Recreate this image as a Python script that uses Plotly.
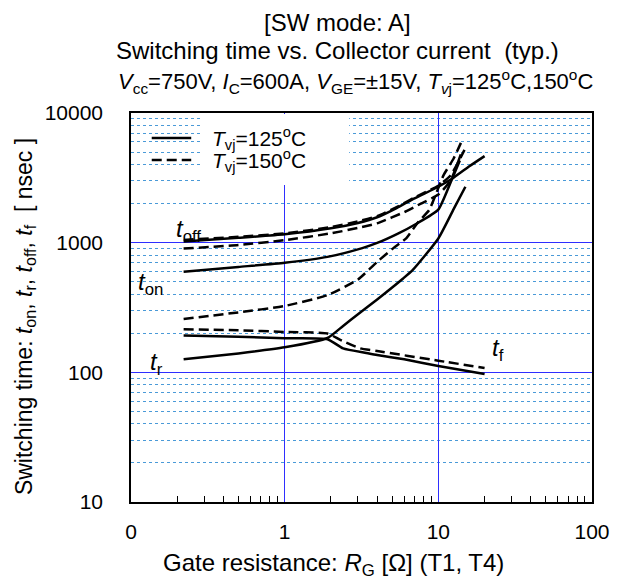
import plotly.graph_objects as go

# ---------------- data ----------------
toff125_x = [0.22, 0.5, 1, 2, 3, 4, 5.35, 7, 10, 12.7, 16, 20]
toff125_y = [1020, 1090, 1160, 1290, 1420, 1570, 1850, 2200, 2700, 3200, 3900, 4650]

toff150_x = [0.22, 0.5, 1, 2, 3, 4, 5.35, 7, 10, 12, 13.5, 14.8]
toff150_y = [1050, 1110, 1180, 1320, 1460, 1600, 1880, 2230, 2750, 3300, 4200, 5200]

toff150b_x = [0.22, 0.5, 1, 2, 3, 4, 6.2, 7.7, 10, 12, 14]
toff150b_y = [900, 960, 1045, 1180, 1300, 1410, 1750, 2000, 2350, 3000, 4800]

ton125_x = [0.22, 0.5, 1, 1.9, 3.2, 4, 5.5, 7.2, 10, 12, 13.8]
ton125_y = [596, 650, 700, 777, 908, 995, 1180, 1400, 1800, 2900, 4300]

ton150_x = [0.22, 0.5, 1, 1.9, 3, 4, 5.1, 6.2, 7.4, 8.7, 10.8, 12.6, 14.4]
ton150_y = [258, 290, 325, 394, 520, 711, 908, 1085, 1445, 1780, 3300, 4480, 6300]

tr125_x = [0.22, 0.5, 1, 1.9, 2.4, 3, 4, 5.9, 6.8, 10, 12.6, 15]
tr125_y = [126, 140, 156, 184, 228, 280, 365, 530, 614, 1077, 1820, 2700]

tf125_x = [0.22, 0.5, 1, 1.9, 2.4, 3.4, 4, 6, 10, 20]
tf125_y = [192, 188, 183, 180, 153, 141, 136, 126, 112, 97]

tf150_x = [0.22, 0.5, 1, 1.9, 2.3, 3.1, 4, 10, 20]
tf150_y = [215, 211, 205, 199, 178, 153, 146, 123, 108]

x_tickvals = [0.1, 1, 10, 100]
x_ticktext = ["0", "1", "10", "100"]
y_tickvals = [10, 100, 1000, 10000]
y_ticktext = ["10", "100", "1000", "10000"]

FONT = "Liberation Sans, Arial, sans-serif"
BLUE = "#2f2fff"
MINOR = "#4a9ad8"

solid_series = [(toff125_x, toff125_y), (ton125_x, ton125_y), (tr125_x, tr125_y), (tf125_x, tf125_y)]
dashed_series = [(toff150_x, toff150_y), (toff150b_x, toff150b_y), (ton150_x, ton150_y), (tf150_x, tf150_y)]

fig = go.Figure()
for xs, ys in solid_series:
    fig.add_trace(go.Scatter(x=xs, y=ys, mode="lines",
                             line=dict(color="black", width=2.5, shape="spline", smoothing=0.5),
                             showlegend=False, hoverinfo="skip"))
for xs, ys in dashed_series:
    fig.add_trace(go.Scatter(x=xs, y=ys, mode="lines",
                             line=dict(color="black", width=2.5, dash="10px,5px", shape="spline", smoothing=0.5),
                             showlegend=False, hoverinfo="skip"))

minor_x = [m * 10 ** e for e in (-1, 0, 1) for m in range(2, 10)]
minor_y = [m * 10 ** e for e in (1, 2, 3) for m in range(2, 10)]

fig.update_xaxes(
    type="log", range=[-1, 2],
    tickvals=x_tickvals, ticktext=x_ticktext,
    showgrid=True, gridcolor=BLUE, gridwidth=1,
    ticks="", ticklabelstandoff=10,
    showline=True, linecolor="black", linewidth=1.5, mirror=True,
    zeroline=False,
    tickfont=dict(family=FONT, size=21, color="black"),
    minor=dict(tickvals=minor_x, ticks="inside", ticklen=6, tickcolor="black", tickwidth=1, showgrid=False),
)
fig.update_yaxes(
    type="log", range=[1, 4],
    tickvals=y_tickvals, ticktext=y_ticktext,
    showgrid=True, gridcolor=BLUE, gridwidth=1,
    ticks="", ticklabelstandoff=22,
    showline=True, linecolor="black", linewidth=1.5, mirror=True,
    zeroline=False,
    tickfont=dict(family=FONT, size=21, color="black"),
    minor=dict(tickvals=minor_y, ticks="", showgrid=True, gridcolor=MINOR, griddash="dot", gridwidth=1),
)

def px2x(px):
    return (px - 131) / 467.0

def py2y(py):
    return (502.5 - py) / 389.5

shapes = [
    dict(type="rect", xref="paper", yref="paper", x0=px2x(203), x1=px2x(352), y0=py2y(185), y1=py2y(114),
         fillcolor="white", line=dict(width=0), layer="above"),
    dict(type="line", xref="paper", yref="paper", x0=px2x(152), x1=px2x(192), y0=py2y(138), y1=py2y(138),
         line=dict(color="black", width=2.5), layer="above"),
    dict(type="line", xref="paper", yref="paper", x0=px2x(152), x1=px2x(192), y0=py2y(160), y1=py2y(160),
         line=dict(color="black", width=2.5, dash="10px,5px"), layer="above"),
]

def ann(text, px, py, size, xanchor="left", yanchor="middle", angle=0):
    return dict(text=text, xref="paper", yref="paper", x=px2x(px), y=py2y(py), showarrow=False,
                xanchor=xanchor, yanchor=yanchor, textangle=angle,
                font=dict(family=FONT, size=size, color="black"))

annotations = [
    ann("[SW mode: A]", 340, 22, 24, xanchor="center"),
    ann("Switching time vs. Collector current  (typ.)", 340, 50, 24, xanchor="center"),
    ann("<i>V</i><sub>cc</sub>=750V, <i>I</i><sub>C</sub>=600A, <i>V</i><sub>GE</sub>=±15V, <i>T</i><sub><i>v</i>j</sub>=125<sup>o</sup>C,150<sup>o</sup>C",
        116, 81, 22, xanchor="left"),
    ann("<i>T</i><sub>vj</sub>=125<sup>o</sup>C", 211, 139, 21),
    ann("<i>T</i><sub>vj</sub>=150<sup>o</sup>C", 211, 161, 21),
    ann("<i>t</i><sub>off</sub>", 175, 231, 24),
    ann("<i>t</i><sub>on</sub>", 136, 284, 24),
    ann("<i>t</i><sub>r</sub>", 148, 364, 24),
    ann("<i>t</i><sub>f</sub>", 495, 350, 24),
    ann("Gate resistance: <i>R</i><sub>G</sub> [Ω] (T1, T4)", 336, 565, 24, xanchor="center"),
    ann("Switching time: <i>t</i><sub>on</sub>, <i>t</i><sub>r</sub>, <i>t</i><sub>off</sub>, <i>t</i><sub>f</sub>  [ nsec ]",
        24, 317, 23, xanchor="center", angle=-90),
]

fig.update_layout(
    width=622, height=583,
    margin=dict(l=131, r=24, t=113, b=81),
    paper_bgcolor="white", plot_bgcolor="white",
    showlegend=False,
    shapes=shapes, annotations=annotations,
    font=dict(family=FONT, color="black"),
)

fig.write_html("out.html")
